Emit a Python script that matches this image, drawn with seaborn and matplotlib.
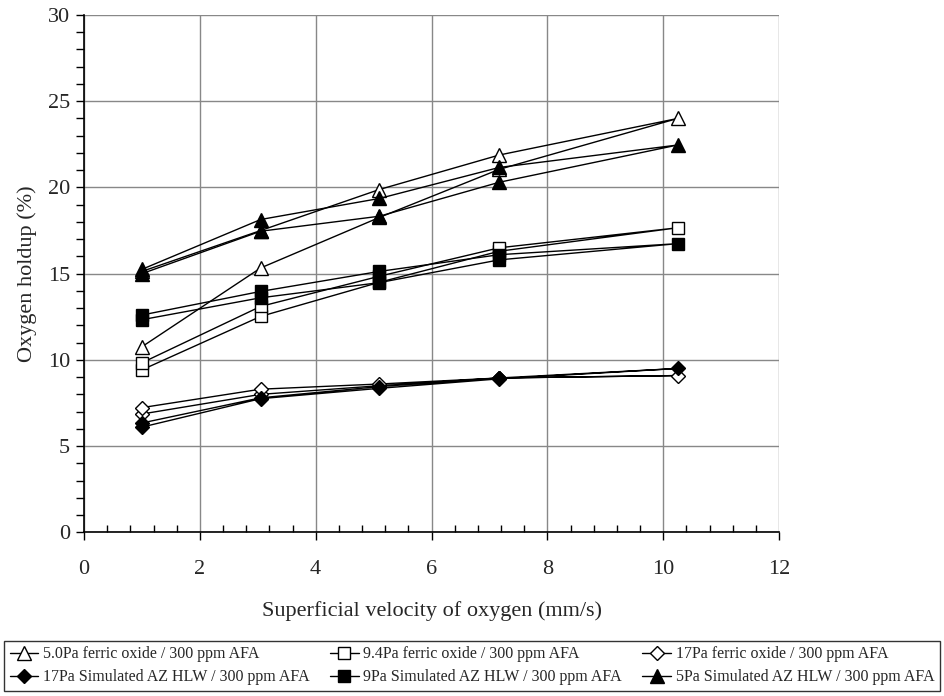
import matplotlib
matplotlib.use("Agg")
import matplotlib.pyplot as plt
from matplotlib.ticker import MultipleLocator
import seaborn as sns
import pandas as pd

# Superficial velocity steps: increasing sweep, then decreasing sweep
velocity = [1.0, 3.05, 5.1, 7.17, 10.25, 7.17, 5.1, 3.05, 1.0]

series_labels = [
    "5.0Pa ferric oxide / 300 ppm AFA",
    "9.4Pa ferric oxide / 300 ppm AFA",
    "17Pa ferric oxide / 300 ppm AFA",
    "17Pa Simulated AZ HLW / 300 ppm AFA",
    "9Pa Simulated AZ HLW / 300 ppm AFA",
    "5Pa Simulated AZ HLW / 300 ppm AFA",
]

holdup_ferric_5 = [10.76, 15.33, 18.26, 21.05, 24.0, 21.88, 19.88, 17.5, 15.13]
holdup_ferric_9_4 = [9.42, 12.52, 14.5, 16.3, 17.66, 16.5, 14.85, 13.1, 9.83]
holdup_ferric_17 = [6.86, 8.0, 8.5, 8.95, 9.09, 8.95, 8.6, 8.3, 7.23]
holdup_hlw_17 = [6.1, 7.75, 8.35, 8.9, 9.5, 8.95, 8.45, 7.8, 6.34]
holdup_hlw_9 = [12.33, 13.6, 14.48, 15.8, 16.74, 16.1, 15.13, 13.97, 12.6]
holdup_hlw_5 = [15.0, 17.46, 18.33, 20.3, 22.46, 21.16, 19.36, 18.14, 15.25]

holdups = [holdup_ferric_5, holdup_ferric_9_4, holdup_ferric_17,
           holdup_hlw_17, holdup_hlw_9, holdup_hlw_5]

marker_shapes = ["^", "s", "D", "D", "s", "^"]
marker_faces = ["white", "white", "white", "black", "black", "black"]
marker_sizes = [10, 9, 7.5, 7.5, 9, 10]

rows = []
for label, ys in zip(series_labels, holdups):
    for step, (xv, yv) in enumerate(zip(velocity, ys)):
        rows.append({"series": label, "step": step, "velocity": xv, "holdup": yv})
df = pd.DataFrame(rows)

sns.set_theme(style="white")
plt.rcParams["font.family"] = ["Liberation Serif", "DejaVu Serif"]
plt.rcParams["mathtext.fontset"] = "stix"

fig = plt.figure(figsize=(9.44, 6.96), dpi=100)
ax = fig.add_axes([84 / 944, 1 - 532.3 / 696, (779 - 84) / 944, (532.3 - 15) / 696])

handles = {}
for label, mk, fc, ms in zip(series_labels, marker_shapes, marker_faces, marker_sizes):
    sub = df[df["series"] == label].sort_values("step")
    sns.lineplot(data=sub, x="velocity", y="holdup", ax=ax, sort=False,
                 estimator=None, color="black", linewidth=1.0,
                 marker=mk, markersize=ms, markerfacecolor=fc,
                 markeredgecolor="black", markeredgewidth=1.0,
                 label=label, zorder=3)
    handles[label] = ax.get_lines()[-1]

if ax.get_legend() is not None:
    ax.get_legend().remove()

ax.set_xlim(0, 12)
ax.set_ylim(0, 30)
ax.xaxis.set_major_locator(MultipleLocator(2))
ax.xaxis.set_minor_locator(MultipleLocator(0.4))
ax.yaxis.set_major_locator(MultipleLocator(5))
ax.yaxis.set_minor_locator(MultipleLocator(1))

ax.grid(True, which="major", color="#888888", linewidth=1.0)
ax.set_axisbelow(True)

for side in ["top", "right"]:
    ax.spines[side].set_visible(False)
for side in ["left", "bottom"]:
    ax.spines[side].set_color("black")
    ax.spines[side].set_linewidth(1.2)

ax.tick_params(axis="x", which="major", direction="out", length=6, width=1,
               color="black", labelsize=16, pad=14, bottom=True)
ax.tick_params(axis="x", which="minor", direction="in", length=5, width=1,
               color="black", bottom=True)
ax.tick_params(axis="y", which="major", direction="out", length=6, width=1,
               color="black", labelsize=16, pad=4, left=True)
ax.tick_params(axis="y", which="minor", direction="out", length=6, width=1,
               color="black", left=True)

ax.set_xlabel("Superficial velocity of oxygen (mm/s)", fontsize=16, labelpad=16)
ax.set_ylabel("Oxygen holdup (%)", fontsize=16, labelpad=8)

# Legend laid out in two rows of three; ncol fills column-wise
order = [0, 3, 1, 4, 2, 5]
leg = fig.legend([handles[series_labels[i]] for i in order],
                 [series_labels[i] for i in order],
                 loc="lower left", bbox_to_anchor=(4 / 944, 5 / 696, 936 / 944, 57 / 696),
                 mode="expand", ncol=3, fontsize=11.5, frameon=True, fancybox=False,
                 edgecolor="black", handlelength=1.8, handletextpad=0.3,
                 borderpad=0.35, labelspacing=0.45, borderaxespad=0, columnspacing=1.0)
leg.get_frame().set_linewidth(1.0)

fig.savefig("out.png", dpi=100, facecolor="white")
